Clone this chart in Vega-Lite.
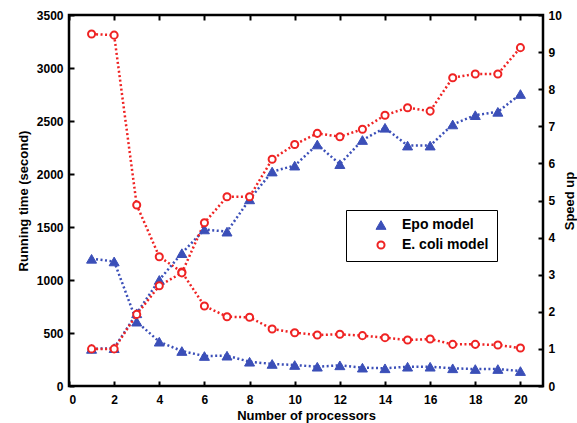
{
  "$schema": "https://vega.github.io/schema/vega-lite/v6.json",
  "width": 474,
  "height": 371,
  "autosize": {"type": "none"},
  "padding": {"left": 69, "top": 15, "right": 34, "bottom": 37},
  "background": "white",
  "config": {
    "font": "Liberation Sans",
    "view": {"stroke": "black", "strokeWidth": 2.5},
    "axis": {
      "labelFont": "Liberation Sans", "labelFontSize": 12, "labelFontWeight": "bold", "labelColor": "black",
      "titleFont": "Liberation Sans", "titleFontSize": 13, "titleFontWeight": "bold", "titleColor": "black",
      "tickColor": "black", "tickWidth": 2, "tickSize": -5, "domain": false, "grid": false, "format": "d"
    }
  },
  "data": {"values": [
    {"n": 1, "model": "Epo model", "time": 1200, "speedup": 1.0},
    {"n": 2, "model": "Epo model", "time": 1175, "speedup": 1.02},
    {"n": 3, "model": "Epo model", "time": 607, "speedup": 1.96},
    {"n": 4, "model": "Epo model", "time": 418, "speedup": 2.86},
    {"n": 5, "model": "Epo model", "time": 330, "speedup": 3.58},
    {"n": 6, "model": "Epo model", "time": 283, "speedup": 4.22},
    {"n": 7, "model": "Epo model", "time": 286, "speedup": 4.16},
    {"n": 8, "model": "Epo model", "time": 229, "speedup": 5.03},
    {"n": 9, "model": "Epo model", "time": 208, "speedup": 5.78},
    {"n": 10, "model": "Epo model", "time": 198, "speedup": 5.94},
    {"n": 11, "model": "Epo model", "time": 182, "speedup": 6.51},
    {"n": 12, "model": "Epo model", "time": 195, "speedup": 5.98},
    {"n": 13, "model": "Epo model", "time": 173, "speedup": 6.63},
    {"n": 14, "model": "Epo model", "time": 167, "speedup": 6.96},
    {"n": 15, "model": "Epo model", "time": 182, "speedup": 6.48},
    {"n": 16, "model": "Epo model", "time": 182, "speedup": 6.48},
    {"n": 17, "model": "Epo model", "time": 167, "speedup": 7.05},
    {"n": 18, "model": "Epo model", "time": 160, "speedup": 7.30},
    {"n": 19, "model": "Epo model", "time": 160, "speedup": 7.39},
    {"n": 20, "model": "Epo model", "time": 141, "speedup": 7.87},
    {"n": 1, "model": "E. coli model", "time": 3320, "speedup": 1.0},
    {"n": 2, "model": "E. coli model", "time": 3310, "speedup": 1.0},
    {"n": 3, "model": "E. coli model", "time": 1707, "speedup": 1.93},
    {"n": 4, "model": "E. coli model", "time": 1220, "speedup": 2.70},
    {"n": 5, "model": "E. coli model", "time": 1075, "speedup": 3.05},
    {"n": 6, "model": "E. coli model", "time": 755, "speedup": 4.40},
    {"n": 7, "model": "E. coli model", "time": 654, "speedup": 5.10},
    {"n": 8, "model": "E. coli model", "time": 648, "speedup": 5.10},
    {"n": 9, "model": "E. coli model", "time": 538, "speedup": 6.11},
    {"n": 10, "model": "E. coli model", "time": 503, "speedup": 6.51},
    {"n": 11, "model": "E. coli model", "time": 481, "speedup": 6.81},
    {"n": 12, "model": "E. coli model", "time": 488, "speedup": 6.72},
    {"n": 13, "model": "E. coli model", "time": 475, "speedup": 6.92},
    {"n": 14, "model": "E. coli model", "time": 456, "speedup": 7.30},
    {"n": 15, "model": "E. coli model", "time": 434, "speedup": 7.50},
    {"n": 16, "model": "E. coli model", "time": 443, "speedup": 7.41},
    {"n": 17, "model": "E. coli model", "time": 393, "speedup": 8.31},
    {"n": 18, "model": "E. coli model", "time": 393, "speedup": 8.41},
    {"n": 19, "model": "E. coli model", "time": 387, "speedup": 8.41},
    {"n": 20, "model": "E. coli model", "time": 358, "speedup": 9.12}
  ]},
  "layer": [
    {
      "encoding": {
        "x": {"field": "n", "type": "quantitative", "scale": {"domain": [0, 21], "nice": false},
              "axis": {"orient": "bottom", "values": [0, 2, 4, 6, 8, 10, 12, 14, 16, 18, 20], "labelPadding": 13, "title": "Number of processors", "titlePadding": 4}},
        "y": {"field": "time", "type": "quantitative", "scale": {"domain": [0, 3500], "nice": false},
              "axis": {"orient": "left", "values": [0, 500, 1000, 1500, 2000, 2500, 3000, 3500], "labelPadding": 11, "title": "Running time (second)", "titlePadding": 6}}
      },
      "layer": [
        {
          "mark": {"type": "line", "strokeDash": [2, 2.5], "strokeWidth": 2.5, "strokeCap": "butt"},
          "encoding": {
            "stroke": {"field": "model", "type": "nominal",
              "scale": {"domain": ["Epo model", "E. coli model"], "range": ["#3b4fb8", "#ef2323"]},
              "legend": {
                "title": null, "orient": "none", "legendX": 277, "legendY": 195,
                "fillColor": "white", "strokeColor": "black", "padding": 8,
                "labelFont": "Liberation Sans", "labelFontSize": 14, "labelFontWeight": "bold", "labelColor": "black",
                "symbolOffset": 20, "labelOffset": 14, "rowPadding": 5, "symbolStrokeWidth": 2
              }
            }
          }
        },
        {
          "mark": {"type": "point", "opacity": 1},
          "encoding": {
            "shape": {"field": "model", "type": "nominal", "scale": {"domain": ["Epo model", "E. coli model"], "range": ["triangle-up", "circle"]}, "legend": null},
            "stroke": {"field": "model", "type": "nominal", "legend": null},
            "fill": {"field": "model", "type": "nominal", "scale": {"domain": ["Epo model", "E. coli model"], "range": ["#3b4fb8", "white"]}, "legend": null},
            "size": {"field": "model", "type": "nominal", "scale": {"domain": ["Epo model", "E. coli model"], "range": [100, 50]}, "legend": null},
            "strokeWidth": {"field": "model", "type": "nominal", "scale": {"domain": ["Epo model", "E. coli model"], "range": [1, 2]}, "legend": null}
          }
        }
      ]
    },
    {
      "encoding": {
        "x": {"field": "n", "type": "quantitative", "scale": {"domain": [0, 21], "nice": false},
              "axis": {"orient": "top", "values": [0, 2, 4, 6, 8, 10, 12, 14, 16, 18, 20], "labels": false, "title": null}},
        "y": {"field": "speedup", "type": "quantitative", "scale": {"domain": [0, 10], "nice": false},
              "axis": {"orient": "right", "values": [0, 1, 2, 3, 4, 5, 6, 7, 8, 9, 10], "labelPadding": 10, "title": "Speed up", "titlePadding": 2, "titleAngle": 270, "titleBaseline": "top"}}
      },
      "layer": [
        {
          "mark": {"type": "line", "strokeDash": [2, 2.5], "strokeWidth": 2.5, "strokeCap": "butt"},
          "encoding": {"stroke": {"field": "model", "type": "nominal", "legend": null}}
        },
        {
          "mark": {"type": "point", "opacity": 1},
          "encoding": {
            "shape": {"field": "model", "type": "nominal", "legend": null},
            "stroke": {"field": "model", "type": "nominal", "legend": null},
            "fill": {"field": "model", "type": "nominal", "legend": null},
            "size": {"field": "model", "type": "nominal", "legend": null},
            "strokeWidth": {"field": "model", "type": "nominal", "legend": null}
          }
        }
      ]
    }
  ],
  "resolve": {"scale": {"y": "independent"}, "axis": {"x": "independent"}}
}
